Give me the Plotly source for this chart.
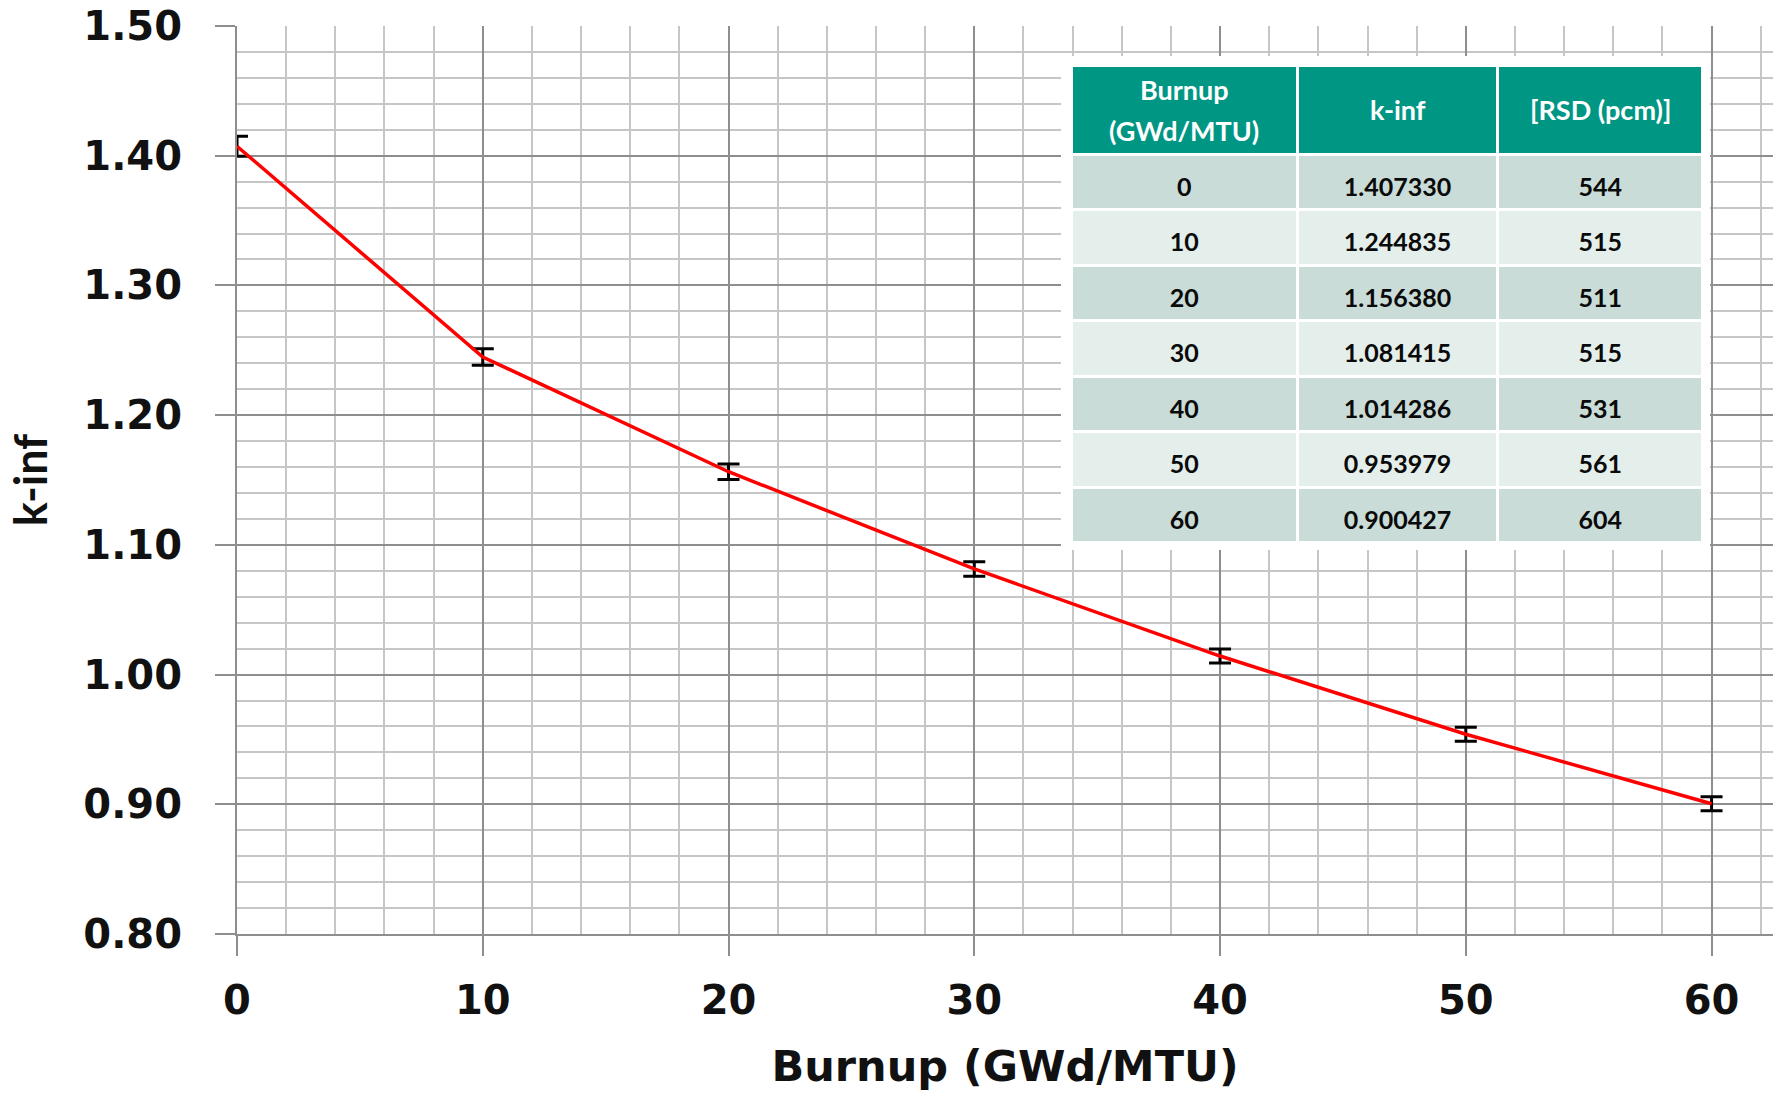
import plotly.graph_objects as go

# Burnup steps (GWd/MTU), infinite multiplication factor and relative std. dev. (pcm)
burnup = [0, 10, 20, 30, 40, 50, 60]
k_inf = [1.407330, 1.244835, 1.156380, 1.081415, 1.014286, 0.953979, 0.900427]
rsd_pcm = [544, 515, 511, 515, 531, 561, 604]

y_ticks = [0.80, 0.90, 1.00, 1.10, 1.20, 1.30, 1.40, 1.50]
x_ticks = [0, 10, 20, 30, 40, 50, 60]

header_lines = [["Burnup", "(GWd/MTU)"], ["k-inf"], ["[RSD (pcm)]"]]

# absolute one-sigma uncertainty from the relative value
k_err = [k * r * 1e-5 for k, r in zip(k_inf, rsd_pcm)]

W, H = 1773, 1093
M_L, M_R, M_T, M_B = 237, 0, 26, 159
PW, PH = W - M_L - M_R, H - M_T - M_B


def px_x(px):
    return (px - M_L) / PW


def px_y(py):
    return (H - M_B - py) / PH


# inset table geometry (pixels)
TBL_LEFT, TBL_RIGHT, TBL_TOP = 1071, 1703, 65
HEAD_H, ROW_H = 89, 55.5
COL_W = [225, 199, 204]
TEXT_DROP = 15  # pushes cell text down to the middle of each row

TICK_FONT = dict(family="DejaVu Sans", size=40, color="#111111", weight="bold")
MAJOR_GRID = "#8e8e8e"
MINOR_GRID = "#c6c6c6"
CELL_FONT = dict(family="Lato", size=25, color="#0a0a0a", weight="bold")
HEAD_FONT = dict(family="Lato", size=27, color="#ffffff", weight="bold")

fig = go.Figure()

fig.add_trace(go.Scatter(
    x=burnup, y=k_inf, mode="lines",
    line=dict(color="#ff0000", width=3.5),
    error_y=dict(type="data", array=k_err, visible=True,
                 color="#000000", thickness=3, width=11),
    showlegend=False, hoverinfo="x+y",
))

tbl_bottom = TBL_TOP + HEAD_H + ROW_H * len(burnup)

# white backdrop behind the inset table (a blank one-cell table)
fig.add_trace(go.Table(
    domain=dict(x=[px_x(TBL_LEFT - 10), px_x(TBL_RIGHT + 7)],
                y=[px_y(tbl_bottom + 8), px_y(TBL_TOP - 9)]),
    header=dict(values=[""], fill_color="#ffffff",
                line=dict(color="#ffffff", width=0),
                height=tbl_bottom - TBL_TOP + 17),
    cells=dict(values=[[]], fill_color="#ffffff", line=dict(width=0)),
    hoverinfo="skip",
))

row_fill = ["#c9dcd7" if i % 2 == 0 else "#e4eeeb" for i in range(len(burnup))]
cell_text = [[str(b) for b in burnup],
             [f"{k:.6f}" for k in k_inf],
             [str(r) for r in rsd_pcm]]

# coloured cells of the table
fig.add_trace(go.Table(
    domain=dict(x=[px_x(TBL_LEFT), px_x(TBL_RIGHT)],
                y=[px_y(tbl_bottom), px_y(TBL_TOP)]),
    columnwidth=COL_W,
    header=dict(values=["", "", ""], fill_color="#009684",
                line=dict(color="#ffffff", width=3), height=HEAD_H),
    cells=dict(values=[[""] * len(burnup)] * 3,
               fill_color=[row_fill] * 3,
               line=dict(color="#ffffff", width=3), height=ROW_H),
    hoverinfo="skip",
))

# cell values, laid over the coloured cells
fig.add_trace(go.Table(
    domain=dict(x=[px_x(TBL_LEFT), px_x(TBL_RIGHT)],
                y=[px_y(tbl_bottom + TEXT_DROP), px_y(TBL_TOP + TEXT_DROP)]),
    columnwidth=COL_W,
    header=dict(values=["", "", ""], fill_color="rgba(0,0,0,0)",
                line=dict(color="rgba(0,0,0,0)", width=0), height=HEAD_H),
    cells=dict(values=cell_text, fill_color="rgba(0,0,0,0)",
               line=dict(color="rgba(0,0,0,0)", width=0),
               align="center", height=ROW_H, font=CELL_FONT),
    hoverinfo="skip",
))

# header captions, centred in each header cell
annotations = []
x_edge = TBL_LEFT
scale = (TBL_RIGHT - TBL_LEFT) / sum(COL_W)
for lines, cw in zip(header_lines, COL_W):
    cx = x_edge + cw * scale / 2
    x_edge += cw * scale
    gap = 41
    y0 = TBL_TOP + HEAD_H / 2 - gap * (len(lines) - 1) / 2
    for j, line in enumerate(lines):
        annotations.append(dict(
            x=px_x(cx), y=px_y(y0 + j * gap), xref="paper", yref="paper",
            text=line, showarrow=False, xanchor="center", yanchor="middle",
            font=HEAD_FONT,
        ))

fig.update_layout(
    width=W, height=H,
    margin=dict(l=M_L, r=M_R, t=M_T, b=M_B),
    paper_bgcolor="#ffffff", plot_bgcolor="#ffffff",
    font=dict(family="DejaVu Sans", color="#111111"),
    annotations=annotations,
)

fig.update_xaxes(
    range=[0, 62.5], tickvals=x_ticks, ticktext=[str(v) for v in x_ticks],
    showgrid=True, gridcolor=MAJOR_GRID, gridwidth=2,
    minor=dict(dtick=2, tick0=0, showgrid=True, gridcolor=MINOR_GRID, gridwidth=2),
    showline=True, linecolor=MAJOR_GRID, linewidth=2,
    ticks="outside", ticklen=20, tickwidth=2, tickcolor=MAJOR_GRID,
    ticklabelstandoff=10, tickfont=TICK_FONT, zeroline=False,
    title=dict(text="Burnup (GWd/MTU)", standoff=29,
               font=dict(family="DejaVu Sans", size=43, color="#111111", weight="bold")),
)

fig.update_yaxes(
    range=[0.8, 1.5], tickvals=y_ticks, ticktext=[f"{v:.2f}" for v in y_ticks],
    showgrid=True, gridcolor=MAJOR_GRID, gridwidth=2,
    minor=dict(dtick=0.02, tick0=0.8, showgrid=True, gridcolor=MINOR_GRID, gridwidth=2),
    showline=True, linecolor=MAJOR_GRID, linewidth=2,
    ticks="outside", ticklen=20, tickwidth=2, tickcolor=MAJOR_GRID,
    ticklabelstandoff=25, tickfont=TICK_FONT, zeroline=False,
    title=dict(text="k-inf", standoff=22,
               font=dict(family="Lato", size=45, color="#111111", weight="bold")),
)

fig.write_html("out.html")
